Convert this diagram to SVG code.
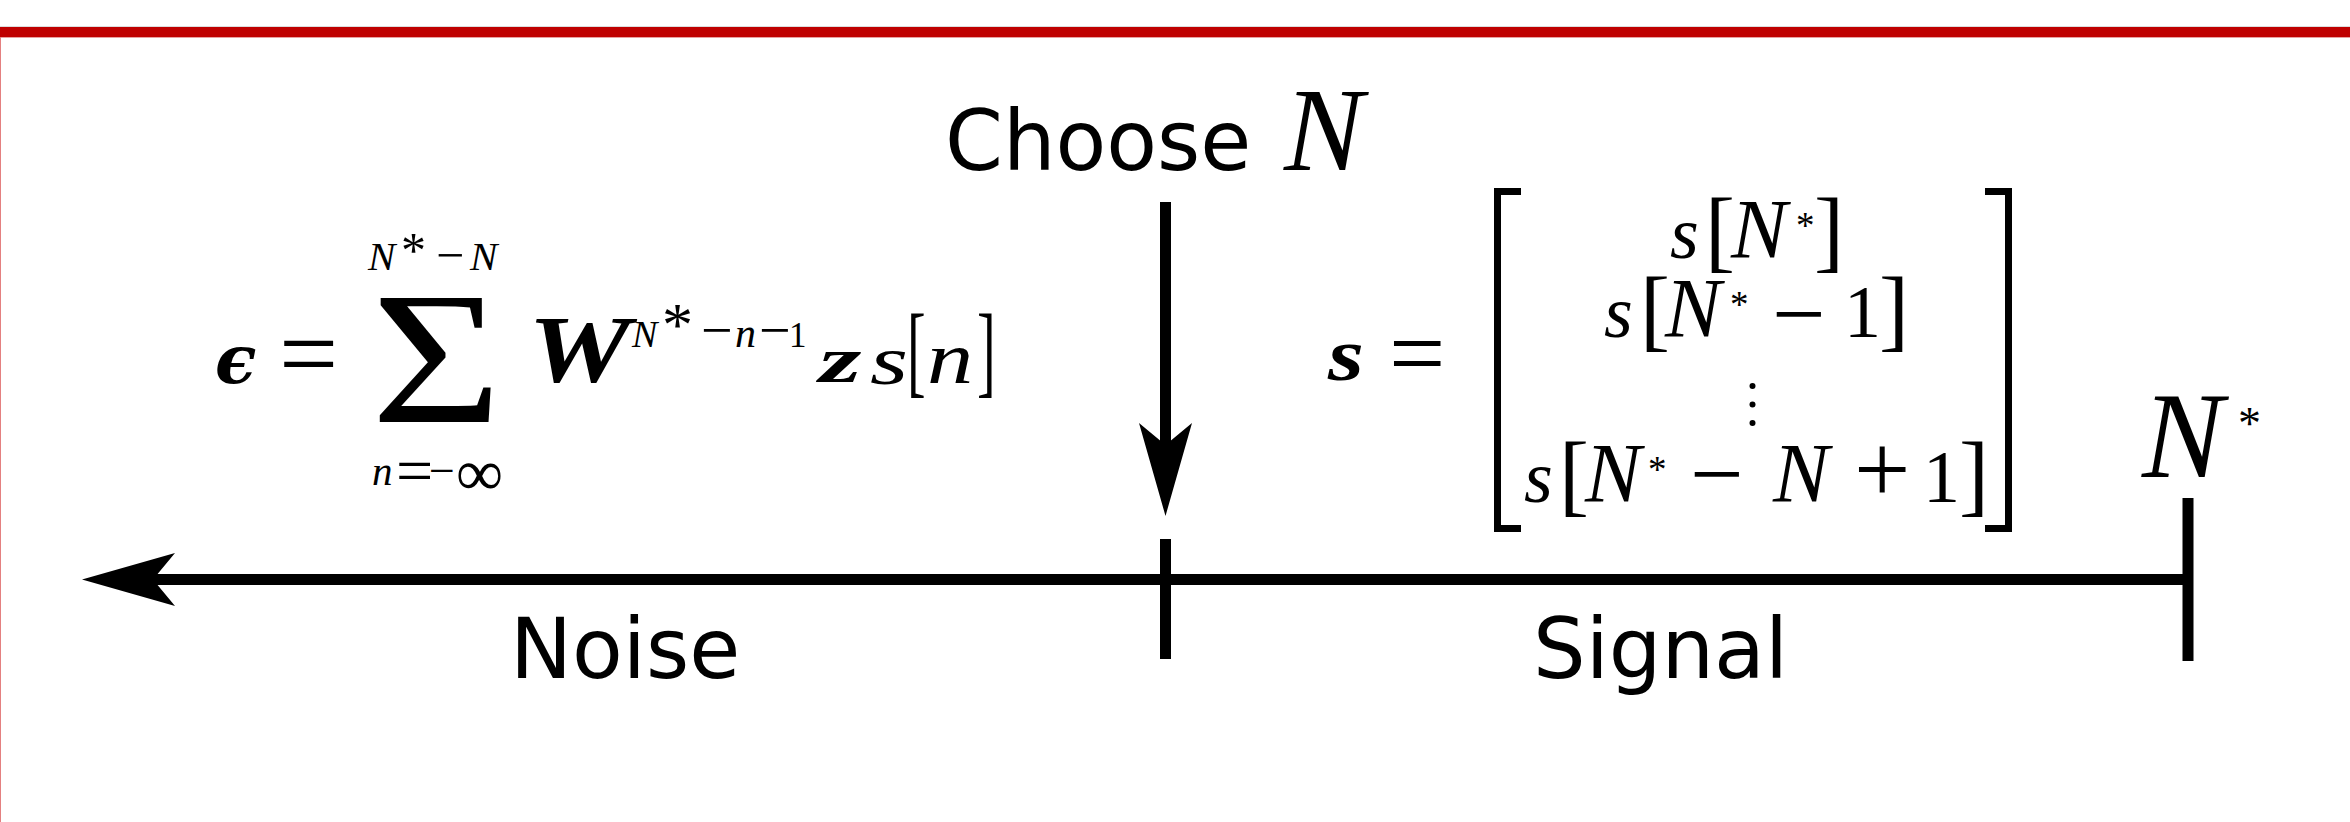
<svg xmlns="http://www.w3.org/2000/svg" width="2350" height="822" viewBox="0 0 2350 822">
<style>
.sans{font-family:"DejaVu Sans",sans-serif;font-size:83px;fill:#000}
.m{font-family:"Liberation Serif","Times New Roman",serif;fill:#000}
.i{font-style:italic}
.b{font-weight:bold}
.ln{stroke:#000;stroke-width:11;fill:none}
.br{stroke:#000;stroke-width:7;fill:none}
</style>
<defs>
<marker id="ah" viewBox="0 0 93 53" refX="24" refY="26.5" markerWidth="93" markerHeight="53" markerUnits="userSpaceOnUse" orient="auto">
<path d="M0,0 L93,26.5 L0,53 L22,26.5 Z" fill="#000"/>
</marker>
</defs>
<rect width="2350" height="822" fill="#fff"/>
<g id="frame">
<line x1="0" y1="26.5" x2="2350" y2="26.5" stroke="#dddddd" stroke-width="1"/>
<rect x="0" y="27" width="2350" height="10" fill="#bf0000"/>
<line x1="0" y1="37.5" x2="2350" y2="37.5" stroke="#e9a0a0" stroke-width="1"/>
<line x1="0.5" y1="37" x2="0.5" y2="822" stroke="#e48080" stroke-width="1"/>
</g>
<g id="connectors">
<line class="ln" x1="2188" y1="579.5" x2="151" y2="579.5" marker-end="url(#ah)"/>
<line class="ln" x1="1165.5" y1="202" x2="1165.5" y2="447" marker-end="url(#ah)"/>
<line class="ln" x1="1165.5" y1="539" x2="1165.5" y2="659"/>
<line class="ln" x1="2188" y1="498" x2="2188" y2="661"/>
</g>
<g id="choose-label">
<text class="sans" x="945" y="170">Choose<tspan class="m i" x="1284" font-size="119">N</tspan></text>
</g>
<g id="noise-label"><text class="sans" x="510" y="678">Noise</text></g>
<g id="signal-label"><text class="sans" x="1533" y="678">Signal</text></g>
<g id="nstar-label">
<text class="m i" x="2142" y="477" font-size="122">N<tspan class="m" font-style="normal" x="2238" y="439" font-size="46">*</tspan></text>
</g>
<g id="noise-formula">
<text class="m i b" x="215" y="383" font-size="68" style="font-family:'DejaVu Serif',serif">ϵ</text>
<text class="m" x="279" y="389" font-size="105">=</text>
<text class="m" transform="translate(371,0) scale(1.19,1)" x="0" y="422" font-size="189">Σ</text>
<text class="m i" x="368" y="270" font-size="41">N<tspan font-style="normal" x="401" y="267" font-size="50">*</tspan><tspan font-style="normal" x="436" y="272" font-size="50">−</tspan><tspan x="470" y="270">N</tspan></text>
<text class="m i" x="372" y="485" font-size="41">n<tspan font-style="normal" x="396" y="493" font-size="66">=</tspan><tspan font-style="normal" x="429" y="486" font-size="46">−</tspan><tspan font-style="normal" x="456" y="495" font-size="66">∞</tspan></text>
<text class="m i b" transform="translate(528,382) scale(1.2,1)" x="0" y="0" font-size="96">W</text>
<text class="m i" x="632" y="347" font-size="38">N<tspan font-style="normal" x="662" y="345" font-size="62">*</tspan><tspan font-style="normal" x="701" y="349" font-size="56">−</tspan><tspan x="735" y="347" font-size="42">n</tspan><tspan font-style="normal" x="759" y="349" font-size="56">−</tspan><tspan font-style="normal" x="789" y="347" font-size="35">1</tspan></text>
<text class="m i b" transform="translate(819,382) scale(1.65,1)" x="0" y="0" font-size="66">z</text>
<text class="m i" transform="translate(870,384) scale(1.4,1)" x="0" y="0" font-size="70">s</text>
<text class="m" transform="translate(907,384) scale(0.55,1)" x="0" y="0" font-size="102">[</text>
<text class="m i" transform="translate(927,383) scale(1.25,1)" x="0" y="0" font-size="74">n</text>
<text class="m" transform="translate(977,384) scale(0.55,1)" x="0" y="0" font-size="102">]</text>
</g>
<g id="signal-formula">
<text class="m i b" x="1328" y="380" font-size="74" textLength="36" lengthAdjust="spacingAndGlyphs">s</text>
<text class="m" x="1389" y="387" font-size="100">=</text>
<path class="br" d="M1521,191.5 H1497.5 V528.5 H1521"/>
<path class="br" d="M1985,191.5 H2008.5 V528.5 H1985"/>
<text class="m i" x="1670" y="258" font-size="74">s<tspan font-style="normal" x="1705" y="261" font-size="90">[</tspan><tspan x="1731" y="258" font-size="84">N</tspan><tspan font-style="normal" x="1796" y="238" font-size="37">*</tspan><tspan font-style="normal" x="1814" y="261" font-size="90">]</tspan></text>
<text class="m i" x="1604" y="337" font-size="74">s<tspan font-style="normal" x="1640" y="340" font-size="90">[</tspan><tspan x="1665" y="337" font-size="84">N</tspan><tspan font-style="normal" x="1730" y="317" font-size="37">*</tspan><tspan font-style="normal" x="1772" y="346" font-size="95">−</tspan><tspan font-style="normal" x="1844" y="337" font-size="74">1</tspan><tspan font-style="normal" x="1879" y="340" font-size="90">]</tspan></text>
<circle cx="1752.5" cy="386" r="3"/>
<circle cx="1752.5" cy="404.5" r="3"/>
<circle cx="1752.5" cy="423" r="3"/>
<text class="m i" x="1524" y="502" font-size="74">s<tspan font-style="normal" x="1559" y="505" font-size="90">[</tspan><tspan x="1585" y="502" font-size="84">N</tspan><tspan font-style="normal" x="1648" y="482" font-size="37">*</tspan><tspan font-style="normal" x="1690" y="506" font-size="95">−</tspan><tspan x="1773" y="502" font-size="84">N</tspan><tspan font-style="normal" x="1854" y="503" font-size="100">+</tspan><tspan font-style="normal" x="1923" y="502" font-size="74">1</tspan><tspan font-style="normal" x="1959" y="505" font-size="90">]</tspan></text>
</g>
</svg>
